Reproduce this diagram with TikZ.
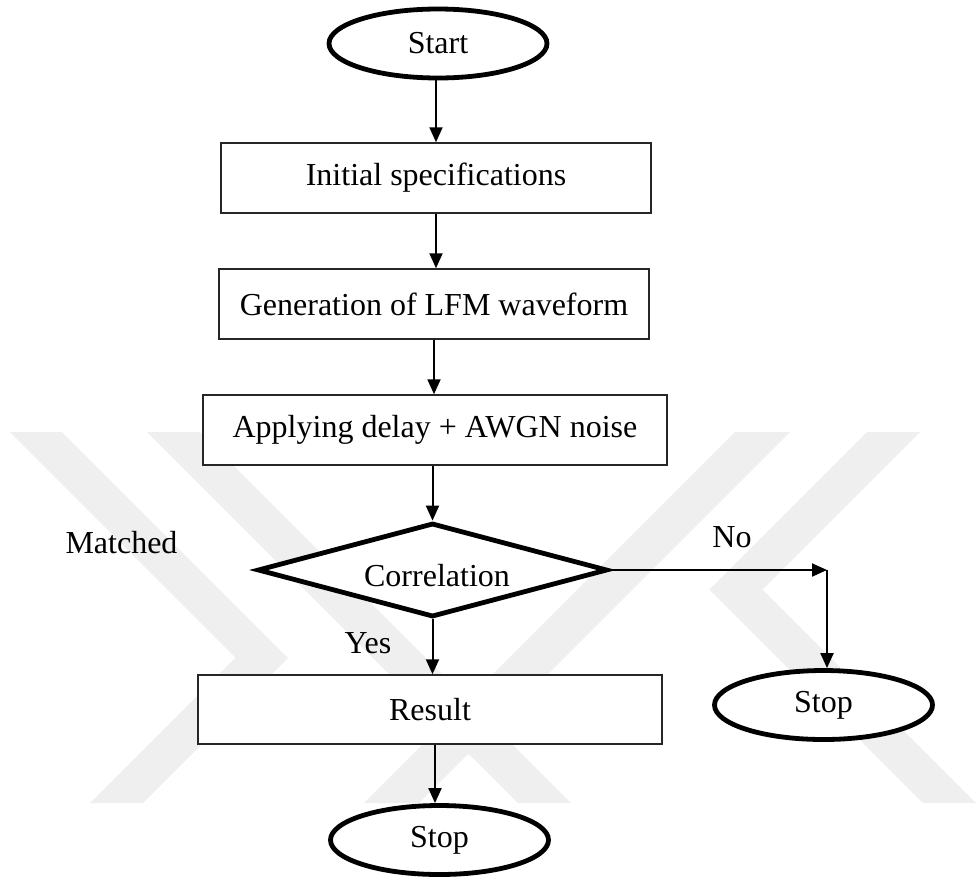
\documentclass[tikz,border=0pt]{standalone}
\usepackage{fontspec}
\setmainfont{Liberation Serif}
\usetikzlibrary{arrows.meta,shapes.geometric}
\definecolor{wmgray}{RGB}{239,239,239}
\begin{document}
\begin{tikzpicture}[x=1pt,y=-1pt,
  every node/.style={font=\fontsize{32}{38}\selectfont, inner sep=0pt},
  procbox/.style={rectangle, draw=black!85, line width=1.5pt, fill=white},
  terminal/.style={ellipse, draw, line width=4.8pt, fill=white,
    minimum width=218pt, minimum height=69pt},
  decision/.style={diamond, draw, line width=4.8pt, fill=white,
    minimum width=350pt, minimum height=94pt},
  arr/.style={line width=2pt, -{Triangle[length=15pt,width=13pt]}},
  lbl/.style={anchor=base},
  wm/.style={fill=wmgray, draw=none}]
\useasboundingbox (0,0) rectangle (979,879);

% faint background emblem
\fill[wm] (10,432) -- (62,432) -- (288,658) -- (143,803) -- (90,803) -- (235.5,657.5) -- cycle;
\fill[wm] (147,432) -- (200,432) -- (571,803) -- (518,803) -- cycle;
\fill[wm] (735,432) -- (790,432) -- (419,803) -- (364,803) -- cycle;
\fill[wm] (867,432) -- (920,432) -- (762.5,589.5) -- (976,803) -- (923,803) -- (709.5,589.5) -- cycle;

% flowchart blocks
\node[terminal] (start) at (438,43.5) {Start};
\node[procbox, minimum width=430pt, minimum height=70pt] (init) at (436,178) {Initial specifications};
\node[procbox, minimum width=430pt, minimum height=70pt] (gen) at (434,304) {Generation of LFM waveform};
\node[procbox, minimum width=464pt, minimum height=70pt] (apply) at (435,430) {Applying delay + AWGN noise};
\node[decision] (corr) at (432.5,570) {};
\node (corrT) at (437,576) {Correlation};
\node[procbox, minimum width=464pt, minimum height=69pt] (result) at (430,709.5) {Result};
\node[terminal] (stopr) at (823.5,705) {Stop};
\node[terminal] (stopb) at (439.5,840) {Stop};

% side labels
\node[lbl] (matched) at (121.5,553) {Matched};
\node[lbl] (no) at (732,547) {No};
\node[lbl] (yes) at (368,653) {Yes};

% connectors
\coordinate (turn) at (827,570);
\draw[arr] (start.south -| init.north) -- (init.north);
\draw[arr] (init.south) -- (init.south |- gen.north);
\draw[arr] (gen.south) -- (gen.south |- apply.north);
\draw[arr] (apply.south -| corr.north) -- (corr.north);
\draw[arr] (corr.south) -- (corr.south |- result.north);
\draw[arr] ([xshift=5pt]result.south) -- ([xshift=5pt]result.south |- stopb.north);
\draw[arr] (corr.east) -- (turn);
\draw[arr] (turn) -- (turn |- stopr.north);
\end{tikzpicture}
\end{document}
